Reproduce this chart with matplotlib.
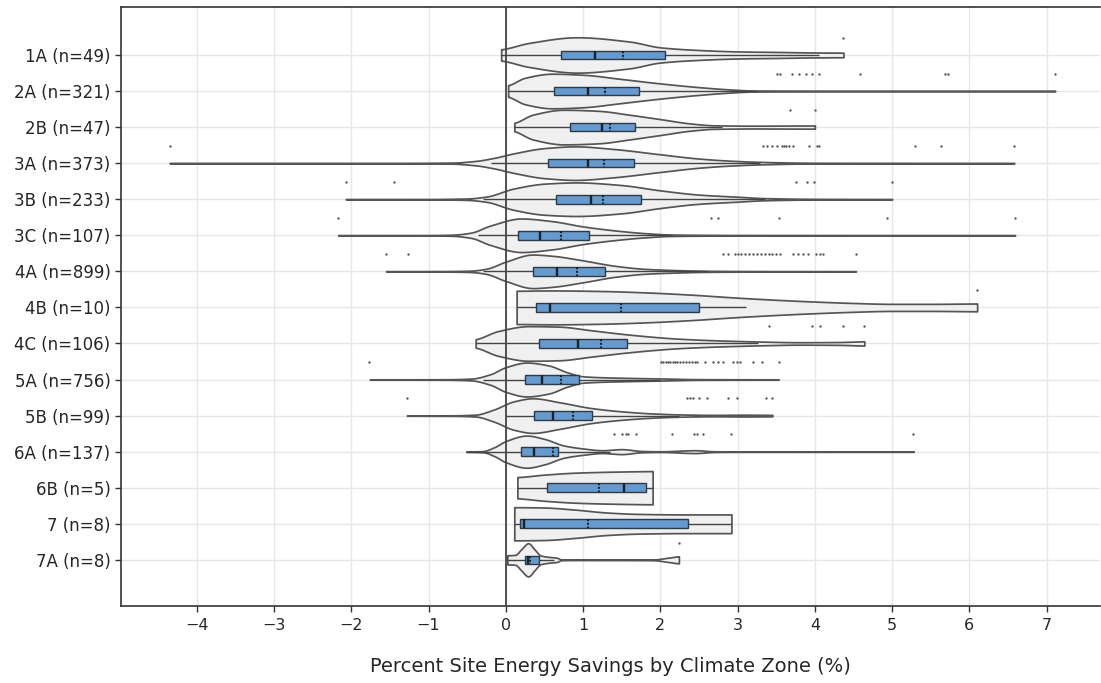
import numpy as np
import matplotlib
matplotlib.use("Agg")
import matplotlib.pyplot as plt

# ---------------- data ----------------
zones = ["1A", "2A", "2B", "3A", "3B", "3C", "4A", "4B", "4C", "5A", "5B", "6A", "6B", "7", "7A"]
counts = [49, 321, 47, 373, 233, 107, 899, 10, 106, 756, 99, 137, 5, 8, 8]

q1 = [0.72, 0.62, 0.83, 0.55, 0.65, 0.16, 0.35, 0.39, 0.43, 0.25, 0.37, 0.20, 0.53, 0.19, 0.25]
median = [1.15, 1.07, 1.25, 1.06, 1.10, 0.44, 0.66, 0.57, 0.93, 0.47, 0.61, 0.36, 1.53, 0.24, 0.29]
mean = [1.52, 1.29, 1.35, 1.27, 1.26, 0.72, 0.92, 1.49, 1.23, 0.71, 0.87, 0.61, 1.20, 1.07, 0.31]
q3 = [2.06, 1.72, 1.67, 1.66, 1.75, 1.08, 1.28, 2.50, 1.57, 0.95, 1.12, 0.68, 1.81, 2.36, 0.43]
whisker_lo = [-0.06, 0.03, 0.11, -0.19, -0.30, -0.36, -0.30, 0.14, -0.39, -0.30, 0.00, -0.51, 0.15, 0.11, 0.02]
whisker_hi = [4.05, 3.25, 2.80, 3.29, 3.35, 2.15, 2.60, 3.11, 3.27, 2.00, 2.24, 1.35, 1.90, 2.92, 0.62]

outliers = [
    [4.37],
    [3.51, 3.55, 3.71, 3.79, 3.89, 3.96, 4.05, 4.58, 5.68, 5.72, 7.11],
    [3.68, 4.00],
    [-4.35, 3.33, 3.38, 3.45, 3.51, 3.57, 3.60, 3.63, 3.67, 3.72, 3.92, 4.03, 4.05, 5.29, 5.63, 6.58],
    [-2.07, -1.45, 3.75, 3.90, 3.99, 5.00],
    [-2.17, 2.65, 2.74, 3.54, 4.93, 6.59],
    [-1.55, -1.27, 2.81, 2.88, 2.96, 3.00, 3.05, 3.10, 3.15, 3.20, 3.25, 3.30, 3.35, 3.40,
     3.45, 3.50, 3.55, 3.72, 3.78, 3.85, 3.91, 4.02, 4.06, 4.11, 4.53],
    [6.10],
    [3.40, 3.96, 4.06, 4.37, 4.63],
    [-1.77, 2.01, 2.04, 2.07, 2.10, 2.13, 2.16, 2.19, 2.22, 2.25, 2.29, 2.33, 2.37, 2.41, 2.45,
     2.48, 2.58, 2.68, 2.74, 2.81, 2.94, 2.99, 3.03, 3.20, 3.31, 3.53],
    [-1.28, 2.34, 2.38, 2.42, 2.50, 2.61, 2.88, 2.99, 3.37, 3.44],
    [1.40, 1.50, 1.55, 1.58, 1.69, 2.15, 2.43, 2.47, 2.55, 2.92, 5.27],
    [],
    [],
    [2.24],
]

# violin outlines: positions (value axis) and relative half-widths (0..1)
violin_x = [
    [-0.06, 0.3, 0.92, 1.6, 2.0, 2.5, 3.0, 3.5, 4.0, 4.37],
    [0.03, 0.25, 0.6, 1.0, 1.5, 2.0, 2.5, 2.9, 3.2, 4.0, 5.5, 7.11],
    [0.11, 0.35, 0.75, 1.2, 1.6, 2.0, 2.4, 2.7, 3.2, 4.0],
    [-4.35, -1.5, -0.7, -0.4, -0.15, 0.1, 0.5, 0.9, 1.4, 2.0, 2.5, 2.9, 3.3, 4.0, 5.0, 6.58],
    [-2.07, -1.0, -0.5, -0.25, 0.1, 0.5, 0.92, 1.5, 2.0, 2.5, 3.0, 3.35, 4.0, 5.0],
    [-2.17, -1.0, -0.7, -0.45, -0.2, 0.2, 0.6, 1.0, 1.4, 1.8, 2.15, 3.0, 4.5, 6.59],
    [-1.55, -0.8, -0.45, -0.25, 0.0, 0.35, 0.6, 1.0, 1.4, 1.8, 2.2, 2.6, 3.5, 4.53],
    [0.14, 0.6, 1.2, 1.8, 2.4, 3.0, 3.5, 4.0, 4.5, 5.0, 5.5, 6.10],
    [-0.39, -0.1, 0.3, 0.7, 1.1, 1.6, 2.2, 2.7, 3.27, 3.8, 4.3, 4.64],
    [-1.76, -0.8, -0.45, -0.2, 0.0, 0.27, 0.55, 0.8, 1.0, 1.5, 2.0, 2.5, 3.53],
    [-1.28, -0.7, -0.4, -0.15, 0.1, 0.35, 0.7, 1.1, 1.5, 1.9, 2.3, 2.7, 3.1, 3.45],
    [-0.51, -0.3, -0.15, 0.0, 0.27, 0.5, 0.75, 1.0, 1.25, 1.5, 1.75, 2.0, 2.45, 2.7, 3.0, 5.28],
    [0.15, 0.5, 0.9, 1.3, 1.9],
    [0.11, 0.5, 0.9, 1.3, 1.7, 2.3, 2.92],
    [0.02, 0.12, 0.2, 0.29, 0.37, 0.45, 0.55, 0.66, 0.72, 1.0, 1.9, 2.1, 2.24],
]
violin_w = [
    [0.32, 0.68, 1.0, 0.76, 0.43, 0.28, 0.2, 0.17, 0.14, 0.13],
    [0.33, 0.75, 0.98, 0.92, 0.68, 0.43, 0.22, 0.09, 0.03, 0.02, 0.015, 0.01],
    [0.24, 0.7, 0.98, 0.92, 0.7, 0.45, 0.2, 0.1, 0.08, 0.09],
    [0.01, 0.012, 0.03, 0.12, 0.3, 0.55, 0.85, 0.95, 0.8, 0.5, 0.26, 0.14, 0.07, 0.02, 0.015, 0.01],
    [0.01, 0.012, 0.04, 0.15, 0.6, 0.88, 0.95, 0.8, 0.5, 0.26, 0.14, 0.06, 0.02, 0.01],
    [0.01, 0.012, 0.03, 0.15, 0.55, 0.95, 0.8, 0.5, 0.28, 0.12, 0.04, 0.015, 0.012, 0.01],
    [0.01, 0.015, 0.04, 0.15, 0.55, 0.95, 0.88, 0.62, 0.32, 0.14, 0.07, 0.03, 0.012, 0.01],
    [0.94, 0.96, 0.93, 0.85, 0.72, 0.55, 0.43, 0.33, 0.25, 0.2, 0.2, 0.22],
    [0.24, 0.7, 0.98, 0.95, 0.75, 0.5, 0.28, 0.18, 0.11, 0.07, 0.08, 0.12],
    [0.01, 0.015, 0.05, 0.3, 0.7, 0.96, 0.8, 0.4, 0.18, 0.1, 0.06, 0.02, 0.01],
    [0.01, 0.015, 0.05, 0.35, 0.8, 0.98, 0.75, 0.43, 0.24, 0.12, 0.06, 0.04, 0.05, 0.04],
    [0.01, 0.03, 0.25, 0.6, 0.91, 0.72, 0.35, 0.18, 0.08, 0.14, 0.04, 0.02, 0.08, 0.02, 0.012, 0.01],
    [0.6, 0.74, 0.85, 0.9, 0.94],
    [0.94, 0.92, 0.8, 0.64, 0.56, 0.53, 0.53],
    [0.26, 0.28, 0.6, 0.94, 0.6, 0.25, 0.17, 0.12, 0.02, 0.01, 0.02, 0.12, 0.2],
]

xticks = [-4, -3, -2, -1, 0, 1, 2, 3, 4, 5, 6, 7]
xlabel = "Percent Site Energy Savings by Climate Zone (%)"

# ---------------- helpers ----------------
def pchip(xk, yk, xs):
    xk = np.asarray(xk, float)
    yk = np.asarray(yk, float)
    h = np.diff(xk)
    d = np.diff(yk) / h
    n = len(xk)
    m = np.zeros(n)
    for k in range(1, n - 1):
        if d[k - 1] * d[k] > 0:
            w1 = 2 * h[k] + h[k - 1]
            w2 = h[k] + 2 * h[k - 1]
            m[k] = (w1 + w2) / (w1 / d[k - 1] + w2 / d[k])
    m[0] = d[0] * 0.5
    m[-1] = d[-1] * 0.5
    idx = np.clip(np.searchsorted(xk, xs) - 1, 0, n - 2)
    t = (xs - xk[idx]) / h[idx]
    h00 = 2 * t**3 - 3 * t**2 + 1
    h10 = t**3 - 2 * t**2 + t
    h01 = -2 * t**3 + 3 * t**2
    h11 = t**3 - t**2
    return h00 * yk[idx] + h10 * h[idx] * m[idx] + h01 * yk[idx + 1] + h11 * h[idx] * m[idx + 1]

# ---------------- figure ----------------
fig = plt.figure(figsize=(11.01, 6.83), dpi=100)
ax = fig.add_axes([121 / 1101, 77 / 683, 979 / 1101, 599 / 683])

violin_half = 0.49
box_half = 0.12
dot_offset = 0.48
ink = "#333333"

for i, zone in enumerate(zones):
    y = i
    xs = np.linspace(violin_x[i][0], violin_x[i][-1], 600)
    hw = np.clip(pchip(violin_x[i], violin_w[i], xs), 0.004, None) * violin_half
    ax.fill_between(xs, y - hw, y + hw, facecolor="#f0f0f0", edgecolor="#555555",
                    linewidth=1.25, zorder=2)
    ax.hlines(y, whisker_lo[i], whisker_hi[i], color="#444444", linewidth=1.0, zorder=4)
    ax.barh(y, q3[i] - q1[i], left=q1[i], height=2 * box_half, color="#6699cc",
            edgecolor="#2e3a46", linewidth=1.0, zorder=5)
    ax.vlines(median[i], y - box_half, y + box_half, color="#1a242c", linewidth=1.7, zorder=6)
    ax.vlines(mean[i], y - box_half, y + box_half, color="#1a242c", linewidth=1.5,
              linestyles=(0, (1.0, 0.8)), zorder=6)
    if outliers[i]:
        ax.plot(outliers[i], [y - dot_offset] * len(outliers[i]), "o", ms=1.7,
                mfc="#555555", mec="none", zorder=4)

ax.axvline(0, color="#444444", linewidth=1.3, zorder=3)

ax.set_xlim(-4.98, 7.69)
ax.set_ylim(15.28, -1.33)
ax.set_xticks(xticks)
ax.set_xticklabels([("\u2212" + str(-t)) if t < 0 else str(t) for t in xticks])
ax.set_yticks(range(len(zones)))
ax.set_yticklabels([f"{z} (n={n})" for z, n in zip(zones, counts)])
ax.grid(True, color="#e6e6e6", linewidth=1.0, zorder=0)
ax.set_axisbelow(True)

for s in ["left", "bottom", "top"]:
    ax.spines[s].set_color(ink)
    ax.spines[s].set_linewidth(1.2)
ax.spines["right"].set_visible(False)
ax.tick_params(axis="both", colors=ink, labelcolor="#262626", length=4, width=1)
ax.tick_params(axis="y", labelsize=12)
ax.tick_params(axis="x", labelsize=11.5, pad=5)
ax.set_xlabel(xlabel, fontsize=14, color="#262626", labelpad=17)

fig.savefig("out.png", dpi=100)
